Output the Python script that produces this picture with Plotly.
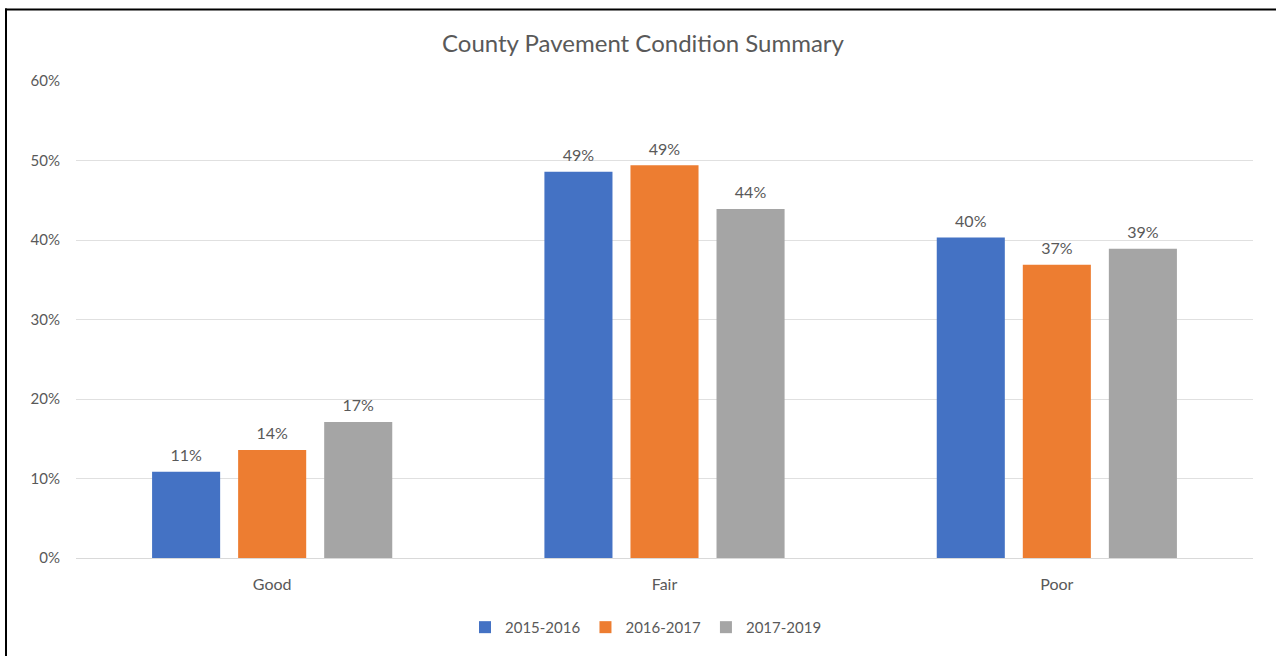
import plotly.graph_objects as go

categories = ["Good", "Fair", "Poor"]
series_names = ["2015-2016", "2016-2017", "2017-2019"]
values_2015_2016 = [0.1085, 0.486, 0.403]
values_2016_2017 = [0.136, 0.494, 0.369]
values_2017_2019 = [0.171, 0.439, 0.389]
colors = ["#4472C4", "#ED7D31", "#A5A5A5"]
y_ticks = [0, 0.1, 0.2, 0.3, 0.4, 0.5, 0.6]

all_values = [values_2015_2016, values_2016_2017, values_2017_2019]

W, H = 1276, 656
L, R, T, B = 76, 23, 81, 94
pw, ph = W - L - R, H - T - B

font_family = "Lato, 'Open Sans', sans-serif"
grey = "#595959"
BARGAP = 0.342

fig = go.Figure()
for i, (name, vals, col) in enumerate(zip(series_names, all_values, colors)):
    fig.add_trace(go.Bar(
        x=categories, y=vals, name=name,
        marker=dict(color=col, line=dict(width=0)),
        offsetgroup=str(i),
    ))
for i, (name, vals) in enumerate(zip(series_names, all_values)):
    fig.add_trace(go.Scatter(
        x=categories, y=vals, name=name, mode="markers+text",
        marker=dict(size=9, opacity=0, color="white"),
        texttemplate="%{y:.0%}", textposition="top center",
        textfont=dict(size=16, color=grey, family=font_family),
        offsetgroup=str(i), showlegend=False, cliponaxis=False,
        hoverinfo="skip",
    ))

def px_x(p):
    return (p - L) / pw

def px_y(p):
    return (H - B - p) / ph

fig.update_layout(
    width=W, height=H,
    margin=dict(l=L, r=R, t=T, b=B),
    paper_bgcolor="white", plot_bgcolor="white",
    barmode="group", bargap=BARGAP, bargroupgap=0.209,
    scattermode="group", scattergap=BARGAP,
    title=dict(text="County Pavement Condition Summary", xref="container",
               x=643 / W, xanchor="center",
               y=1 - 44 / H, yanchor="middle",
               font=dict(size=24, color=grey, family=font_family)),
    font=dict(family=font_family, color=grey, size=15),
    yaxis=dict(range=[0, 0.6], tickvals=y_ticks, tickformat=".0%",
               showgrid=True, gridcolor="#E0E0E0", gridwidth=1,
               zeroline=False, showline=False, ticks="",
               tickfont=dict(size=15, color=grey), ticklabelstandoff=15),
    xaxis=dict(showline=True, linecolor="#D9D9D9", linewidth=1, ticks="",
               tickfont=dict(size=16, color=grey), ticklabelstandoff=12),
    legend=dict(orientation="h", x=px_x(646), xanchor="center",
                y=px_y(632), yanchor="middle",
                font=dict(size=15, color=grey), itemwidth=30,
                traceorder="normal"),
    showlegend=True,
    shapes=[
        dict(type="line", xref="paper", yref="paper",
             x0=px_x(6), x1=px_x(6), y0=px_y(700), y1=px_y(8),
             line=dict(color="black", width=2)),
        dict(type="line", xref="paper", yref="paper",
             x0=px_x(5), x1=px_x(1300), y0=px_y(9), y1=px_y(9),
             line=dict(color="black", width=2)),
    ],
)

fig.write_html("out.html")
